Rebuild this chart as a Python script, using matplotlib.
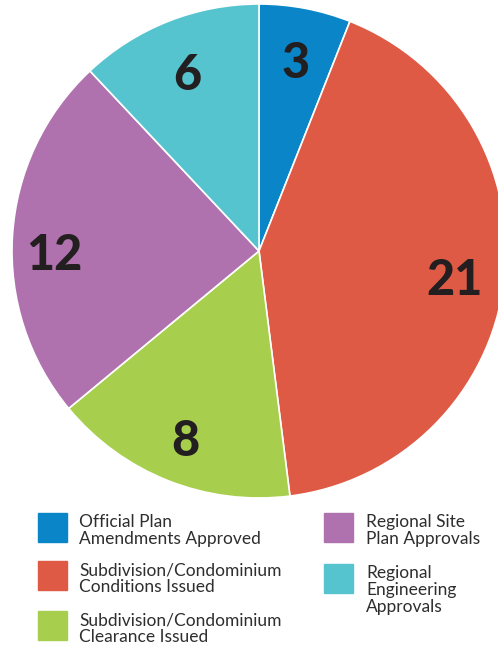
import matplotlib
matplotlib.use("Agg")
import matplotlib.pyplot as plt
import numpy as np

# data
categories = ["Official Plan\nAmendments Approved",
              "Subdivision/Condominium\nConditions Issued",
              "Subdivision/Condominium\nClearance Issued",
              "Regional Site\nPlan Approvals",
              "Regional\nEngineering\nApprovals"]
values = [3, 21, 8, 12, 6]
colors = ["#0A85C8", "#DE5A44", "#A8CE4D", "#B072AE", "#56C4CF"]

W, H = 498, 646
fig = plt.figure(figsize=(W / 100, H / 100), dpi=100)

# pie axes: centre (259, 251) px, radius 247 px
cx, cy, r = 259, 251, 247
ax = fig.add_axes([(cx - r) / W, (H - cy - r) / H, 2 * r / W, 2 * r / H])
wedges, _ = ax.pie(values, colors=colors, startangle=90, counterclock=False,
                   radius=1,
                   wedgeprops=dict(edgecolor="white", linewidth=1.2))

# number labels inside slices
label_dist = [0.79, 0.80, 0.81, 0.83, 0.785]
for w, v, d in zip(wedges, values, label_dist):
    mid = np.deg2rad((w.theta1 + w.theta2) / 2)
    x, y = d * np.cos(mid), d * np.sin(mid)
    if v == 12:
        y = 0.0
    ax.text(x, y - 0.018, str(v), ha="center", va="center", fontsize=35,
            fontweight="black", family="Lato", color="#231F20")
ax.set_xlim(-1, 1)
ax.set_ylim(-1, 1)
ax.set_aspect("equal")
ax.axis("off")

# legend, drawn by hand
sq = 29
legend_pos = [(38, 513, 79, 527), (38, 561, 79, 575), (38, 611, 79, 625),
              (324, 513, 366, 527), (324, 564, 366, 578)]
line_gap = 17
for lab, col, (sx, sy, tx, ty) in zip(categories, colors, legend_pos):
    fig.patches.append(plt.Rectangle((sx / W, 1 - (sy + sq) / H), sq / W, sq / H,
                                     transform=fig.transFigure, color=col,
                                     figure=fig))
    for i, line in enumerate(lab.split("\n")):
        fig.text(tx / W, 1 - (ty + i * line_gap) / H, line, ha="left",
                 va="baseline", fontsize=12.5, family="Lato", color="#2E2E2E")

fig.savefig("out.png", dpi=100)
